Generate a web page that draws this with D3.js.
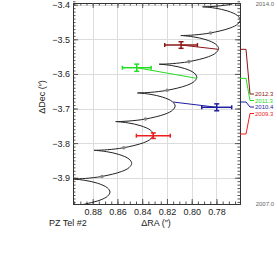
<!DOCTYPE html>
<html>
<head>
<meta charset="utf-8">
<script src="https://cdn.jsdelivr.net/npm/d3@7"></script>
<style>
  body { margin: 0; background: #fff; }
  text { font-family: "Liberation Sans", Arial, sans-serif; }
</style>
</head>
<body>
<svg id="chart" width="277" height="269"></svg>
<script>
// axis ticks
var raTicks = [0.88, 0.86, 0.84, 0.82, 0.80, 0.78];
var decTicks = [-3.4, -3.5, -3.6, -3.7, -3.8, -3.9];

// model track, 2007.0 -> 2014.0
var trackRA = [
  0.8900, 0.8741, 0.8680, 0.8660, 0.8682, 0.8761, 0.8864, 0.8943, 0.8964, 0.8944, 0.8856,
  0.8725, 0.8566, 0.8505, 0.8485, 0.8506, 0.8586, 0.8688, 0.8768, 0.8789, 0.8769, 0.8681,
  0.8549, 0.8390, 0.8330, 0.8310, 0.8331, 0.8410, 0.8513, 0.8592, 0.8614, 0.8594, 0.8506,
  0.8374, 0.8215, 0.8154, 0.8134, 0.8156, 0.8235, 0.8337, 0.8417, 0.8438, 0.8418, 0.8330,
  0.8199, 0.8040, 0.7979, 0.7959, 0.7980, 0.8060, 0.8162, 0.8241, 0.8263, 0.8243, 0.8155,
  0.8023, 0.7864, 0.7804, 0.7783, 0.7805, 0.7884, 0.7987, 0.8066, 0.8088, 0.8067, 0.7979,
  0.7848, 0.7689, 0.7628, 0.7608, 0.7630, 0.7709, 0.7811, 0.7891, 0.7912, 0.7892, 0.7804,
  0.7673];
var trackDec = [
  -3.9792, -3.9649, -3.9534, -3.9414, -3.9291, -3.9159, -3.9076, -3.9042, -3.9037, -3.9036, -3.9020,
  -3.8963, -3.8820, -3.8705, -3.8585, -3.8462, -3.8330, -3.8247, -3.8213, -3.8208, -3.8207, -3.8191,
  -3.8133, -3.7990, -3.7875, -3.7755, -3.7632, -3.7500, -3.7417, -3.7383, -3.7378, -3.7377, -3.7361,
  -3.7304, -3.7161, -3.7046, -3.6926, -3.6803, -3.6671, -3.6588, -3.6554, -3.6549, -3.6548, -3.6532,
  -3.6474, -3.6331, -3.6216, -3.6096, -3.5973, -3.5841, -3.5758, -3.5724, -3.5719, -3.5718, -3.5702,
  -3.5645, -3.5502, -3.5387, -3.5267, -3.5144, -3.5012, -3.4929, -3.4895, -3.4890, -3.4889, -3.4873,
  -3.4815, -3.4672, -3.4557, -3.4437, -3.4314, -3.4182, -3.4099, -3.4065, -3.4060, -3.4059, -3.4043,
  -3.3986];

// yearly markers on the track (2008.0 ... 2013.0)
var yearRA = [0.8725, 0.8549, 0.8374, 0.8199, 0.8023, 0.7848];
var yearDec = [-3.8963, -3.8133, -3.7304, -3.6474, -3.5645, -3.4815];

// observed epochs
var epochs = ["2012.3", "2011.3", "2010.4", "2009.3"];
var obsRA = [0.8086, 0.8444, 0.7798, 0.8310];
var obsDec = [-3.5165, -3.5821, -3.6965, -3.7786];
var errRA = [0.0132, 0.0116, 0.0121, 0.0137];
var errDec = [0.0095, 0.0104, 0.0100, 0.0080];
// model position at each epoch
var modRA = [0.7785, 0.7960, 0.8151, 0.8310];
var modDec = [-3.5289, -3.6127, -3.6812, -3.7737];
var epochColors = ["#8c1616", "#22dd22", "#1e1e9e", "#ee1e1e"];

var timeLabels = ["2014.0", "2007.0"];

var svg = d3.select("#chart"),
    pL = 73, pR = 240, pT = 3, pB = 204;

var x = d3.scaleLinear().domain([0.8959, 0.761]).range([pL, pR]);
var y = d3.scaleLinear().domain([-3.976, -3.395]).range([pB, pT]);

svg.append("defs").append("clipPath").attr("id", "plotclip")
  .append("rect").attr("x", pL).attr("y", pT)
  .attr("width", pR - pL).attr("height", pB - pT);

// grid
var grid = svg.append("g").attr("stroke", "#dcdcdc").attr("stroke-width", 1);
grid.selectAll(".gx").data(raTicks).enter().append("line")
  .attr("x1", function(d) { return Math.round(x(d)) + 0.5; })
  .attr("x2", function(d) { return Math.round(x(d)) + 0.5; })
  .attr("y1", pT).attr("y2", pB);
grid.selectAll(".gy").data(decTicks).enter().append("line")
  .attr("y1", function(d) { return Math.round(y(d)) + 0.5; })
  .attr("y2", function(d) { return Math.round(y(d)) + 0.5; })
  .attr("x1", pL).attr("x2", pR);

// axes with inward ticks
var raMinor = d3.range(0.76, 0.8999, 0.005).filter(function(d) { return d >= 0.761 && d <= 0.8959; });
var decMinor = d3.range(-3.97, -3.39, 0.01);

function styleAxis(g) {
  g.select(".domain").attr("stroke", "#333");
  g.selectAll(".tick line").attr("stroke", "#555");
  g.selectAll("text").attr("fill", "#222").style("font-size", "9px");
}

svg.append("g").attr("transform", "translate(0," + pB + ")")
  .call(d3.axisBottom(x).tickValues(raMinor).tickSizeInner(-2.5).tickSizeOuter(0).tickFormat(""))
  .call(styleAxis);
svg.append("g").attr("transform", "translate(0," + pB + ")")
  .call(d3.axisBottom(x).tickValues(raTicks).tickSizeInner(-5).tickSizeOuter(0)
    .tickPadding(5).tickFormat(d3.format(".2f")))
  .call(styleAxis);
svg.append("g").attr("transform", "translate(0," + pT + ")")
  .call(d3.axisTop(x).tickValues(raMinor).tickSizeInner(-2.5).tickSizeOuter(0).tickFormat(""))
  .call(styleAxis);
svg.append("g").attr("transform", "translate(0," + pT + ")")
  .call(d3.axisTop(x).tickValues(raTicks).tickSizeInner(-5).tickSizeOuter(0).tickFormat(""))
  .call(styleAxis);

svg.append("g").attr("transform", "translate(" + pL + ",0)")
  .call(d3.axisLeft(y).tickValues(decMinor).tickSizeInner(-2.5).tickSizeOuter(0).tickFormat(""))
  .call(styleAxis);
svg.append("g").attr("transform", "translate(" + pL + ",0)")
  .call(d3.axisLeft(y).tickValues(decTicks).tickSizeInner(-5).tickSizeOuter(0)
    .tickPadding(3).tickFormat(d3.format(".1f")))
  .call(styleAxis);
svg.append("g").attr("transform", "translate(" + pR + ",0)")
  .call(d3.axisRight(y).tickValues(decMinor).tickSizeInner(-2.5).tickSizeOuter(0).tickFormat(""))
  .call(styleAxis);
svg.append("g").attr("transform", "translate(" + pR + ",0)")
  .call(d3.axisRight(y).tickValues(decTicks).tickSizeInner(-5).tickSizeOuter(0).tickFormat(""))
  .call(styleAxis);

// model track
var plot = svg.append("g").attr("clip-path", "url(#plotclip)");
var track = d3.line()
  .x(function(d, i) { return x(trackRA[i]); })
  .y(function(d, i) { return y(trackDec[i]); })
  .curve(d3.curveCatmullRom.alpha(0.5));
plot.append("path").attr("d", track(trackRA))
  .attr("fill", "none").attr("stroke", "#222").attr("stroke-width", 1);

plot.selectAll(".yr").data(yearRA).enter().append("circle")
  .attr("cx", function(d) { return x(d); })
  .attr("cy", function(d, i) { return y(yearDec[i]); })
  .attr("r", 1.8).attr("fill", "#888");

// observed -> model links
plot.selectAll(".link").data(epochs).enter().append("line")
  .attr("x1", function(d, i) { return x(obsRA[i]); })
  .attr("y1", function(d, i) { return y(obsDec[i]); })
  .attr("x2", function(d, i) { return x(modRA[i]); })
  .attr("y2", function(d, i) { return y(modDec[i]); })
  .attr("stroke", function(d, i) { return epochColors[i]; })
  .attr("stroke-width", 1);

// error bars
var eb = svg.append("g").selectAll(".eb").data(epochs).enter().append("g")
  .attr("stroke", function(d, i) { return epochColors[i]; })
  .attr("stroke-width", 1.5);
eb.append("line")
  .attr("x1", function(d, i) { return x(obsRA[i] + errRA[i]); })
  .attr("x2", function(d, i) { return x(obsRA[i] - errRA[i]); })
  .attr("y1", function(d, i) { return y(obsDec[i]); })
  .attr("y2", function(d, i) { return y(obsDec[i]); });
eb.append("line")
  .attr("x1", function(d, i) { return x(obsRA[i]); })
  .attr("x2", function(d, i) { return x(obsRA[i]); })
  .attr("y1", function(d, i) { return y(obsDec[i] - errDec[i]); })
  .attr("y2", function(d, i) { return y(obsDec[i] + errDec[i]); });
[-1, 1].forEach(function(s) {
  eb.append("line")
    .attr("x1", function(d, i) { return x(obsRA[i] + s * errRA[i]); })
    .attr("x2", function(d, i) { return x(obsRA[i] + s * errRA[i]); })
    .attr("y1", function(d, i) { return y(obsDec[i]) - 2; })
    .attr("y2", function(d, i) { return y(obsDec[i]) + 2; });
  eb.append("line")
    .attr("x1", function(d, i) { return x(obsRA[i]) - 2.5; })
    .attr("x2", function(d, i) { return x(obsRA[i]) + 2.5; })
    .attr("y1", function(d, i) { return y(obsDec[i] + s * errDec[i]); })
    .attr("y2", function(d, i) { return y(obsDec[i] + s * errDec[i]); });
});

// epoch connectors on the right
var labelY = function(i) { return 94 + i * 6.5; };
svg.selectAll(".conn").data(epochs).enter().append("path")
  .attr("d", function(d, i) {
    var ym = y(modDec[i]);
    return "M" + pR + "," + ym + "L" + (pR + 6) + "," + ym +
      "L" + (pR + 10) + "," + labelY(i) + "L" + (pR + 14) + "," + labelY(i);
  })
  .attr("fill", "none").attr("stroke", function(d, i) { return epochColors[i]; })
  .attr("stroke-width", 1);
svg.selectAll(".elab").data(epochs).enter().append("text")
  .attr("x", pR + 15).attr("y", function(d, i) { return labelY(i); })
  .attr("dy", "0.35em").style("font-size", "6px")
  .attr("fill", function(d, i) { return epochColors[i]; })
  .text(function(d) { return d; });

svg.selectAll(".tlab").data(timeLabels).enter().append("text")
  .attr("x", 274).attr("y", function(d, i) { return i === 0 ? pT + 1 : pB; })
  .attr("dy", "0.35em").attr("text-anchor", "end")
  .style("font-size", "6px").attr("fill", "#666")
  .text(function(d) { return d; });

// axis titles
svg.append("text").attr("x", 156).attr("y", 225.5).attr("text-anchor", "middle")
  .style("font-size", "9px").attr("fill", "#222").text("\u0394RA (\u2033)");
svg.append("text").attr("transform", "translate(44.5,97) rotate(-90)")
  .attr("text-anchor", "middle").style("font-size", "9px").attr("fill", "#222")
  .text("\u0394Dec (\u2033)");
svg.append("text").attr("x", 49).attr("y", 225.5)
  .style("font-size", "9px").attr("fill", "#222").text("PZ Tel #2");
</script>
</body>
</html>
